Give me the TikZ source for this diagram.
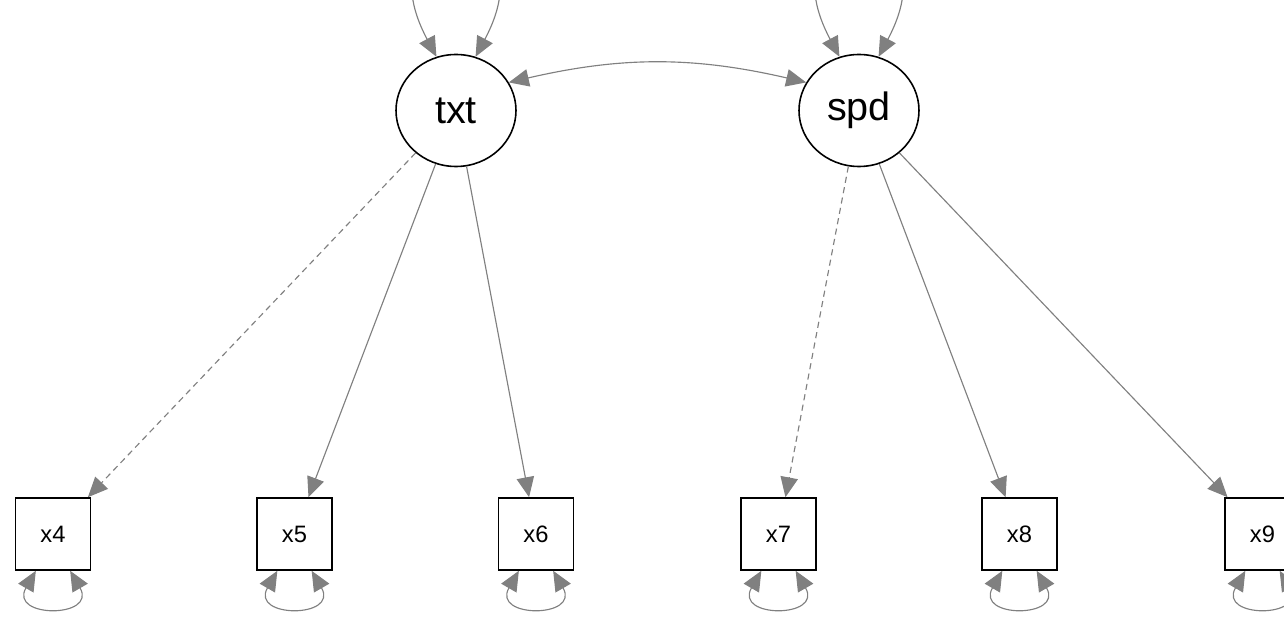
\documentclass[tikz,border=0pt]{standalone}
\usepackage{fontspec}
\setmainfont{Liberation Sans}
\usepackage{tikz}
\usetikzlibrary{shapes.geometric, arrows.meta, positioning}
\usepackage{xcolor}
\definecolor{pathgray}{RGB}{128,128,128}
\tikzstyle{latent} = [ellipse, draw=black, line width=0.9pt, minimum width=2.4cm, minimum height=2.24cm, inner sep=0pt, font=\fontsize{22.5}{26}\selectfont]
\tikzstyle{manifest} = [rectangle, draw=black, line width=0.9pt, minimum width=1.5cm, minimum height=1.44cm, inner sep=0pt, font=\fontsize{13.5}{16}\selectfont]
\tikzstyle{load} = [line width=0.65pt, color=pathgray, -{Triangle[length=0.4cm,width=0.35cm]}]
\tikzstyle{fixload} = [load, dash pattern=on 3.5pt off 2.5pt]
\tikzstyle{var} = [line width=0.65pt, color=pathgray, {Triangle[length=0.4cm,width=0.35cm]}-{Triangle[length=0.4cm,width=0.35cm]}]

\begin{document}
\begin{tikzpicture}

% Canvas
\useasboundingbox (0,0) rectangle (25.68,12.38);
\clip (0,0) rectangle (25.68,12.38);

% Latent variables
\node[latent] (txt) at (9.12,10.17) {txt};
\node[latent] (spd) at (17.18,10.17) {spd};

% Indicators
\node[manifest] (x4) at (1.06,1.70) {x4};
\node[manifest] (x5) at (5.89,1.70) {x5};
\node[manifest] (x6) at (10.72,1.70) {x6};
\node[manifest] (x7) at (15.57,1.70) {x7};
\node[manifest] (x8) at (20.39,1.70) {x8};
\node[manifest] (x9) at (25.25,1.70) {x9};

% Loadings
\draw[fixload] (txt) -- (x4);
\draw[load] (txt) -- (x5);
\draw[load] (txt) -- (x6);
\draw[fixload] (spd) -- (x7);
\draw[load] (spd) -- (x8);
\draw[load] (spd) -- (x9);

% Covariance
\draw[var] (txt.28) to[bend left=13] (spd.152);

% Variances
\draw[var] (txt.110) .. controls +(118:3.4) and +(62:3.4) .. (txt.70);
\draw[var] (spd.110) .. controls +(118:3.4) and +(62:3.4) .. (spd.70);
\foreach \ind in {x4,x5,x6,x7,x8,x9}
  \draw[var] (\ind.-115) .. controls +(-120:1.1) and +(-60:1.1) .. (\ind.-65);

\end{tikzpicture}
\end{document}
